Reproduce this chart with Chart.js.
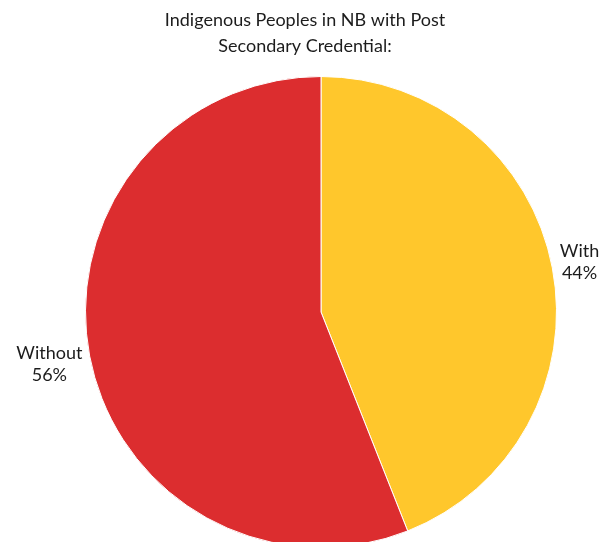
<!DOCTYPE html>
<html>
<head>
<meta charset="utf-8">
<script src="https://cdn.jsdelivr.net/npm/chart.js@4"></script>
<style>
  html, body { margin: 0; padding: 0; background: #fff; overflow: hidden; }
  #wrap { width: 610px; height: 560px; position: relative; }
</style>
</head>
<body>
<div id="wrap"><canvas id="pieChart"></canvas></div>
<script>
const categories = ['With', 'Without'];
const shares = [44, 56];
const sliceColors = ['#FFC72C', '#DC2D2F'];
const chartTitle = ['Indigenous Peoples in NB with Post', 'Secondary Credential:'];

// pie sits a little right of the page centre, title stays centred
const shiftPie = {
    id: 'shiftPie',
    afterLayout(chart) {
        const a = chart.chartArea;
        a.left = 85;
        a.right = 557;
        a.width = a.right - a.left;
    }
};

// labels outside each slice, pushed out along the middle of the slice
const outsideLabels = {
    id: 'outsideLabels',
    afterDatasetsDraw(chart) {
        const ctx = chart.ctx;
        const arcs = chart.getDatasetMeta(0).data;
        ctx.save();
        ctx.font = '18px Lato';
        ctx.fillStyle = '#1c1c1c';
        ctx.textAlign = 'center';
        ctx.textBaseline = 'middle';
        arcs.forEach((arc, i) => {
            const lines = [categories[i], shares[i] + '%'];
            const w = Math.max(...lines.map(t => ctx.measureText(t).width));
            const mid = (arc.startAngle + arc.endAngle) / 2;
            const d = arc.outerRadius + 8 + w / 2;
            const cx = arc.x + d * Math.cos(mid);
            const cy = arc.y + d * Math.sin(mid);
            ctx.fillText(lines[0], cx, cy - 11);
            ctx.fillText(lines[1], cx, cy + 11);
        });
        ctx.restore();
    }
};

const pieChart = new Chart(document.getElementById('pieChart'), {
    type: 'pie',
    data: {
        labels: categories,
        datasets: [{
            data: shares,
            backgroundColor: sliceColors,
            borderColor: '#fff',
            borderWidth: 1,
            hoverOffset: 0
        }]
    },
    options: {
        responsive: true,
        maintainAspectRatio: false,
        animation: false,
        layout: { padding: { left: 0, right: 0, top: 0, bottom: 12 } },
        plugins: {
            legend: { display: false },
            tooltip: { enabled: false },
            title: {
                display: true,
                text: chartTitle,
                color: '#1c1c1c',
                font: { family: 'Lato', size: 18, weight: 'normal', lineHeight: 1.4 },
                padding: { top: 8, bottom: 17.6 }
            }
        }
    },
    plugins: [shiftPie, outsideLabels]
});
</script>
</body>
</html>
